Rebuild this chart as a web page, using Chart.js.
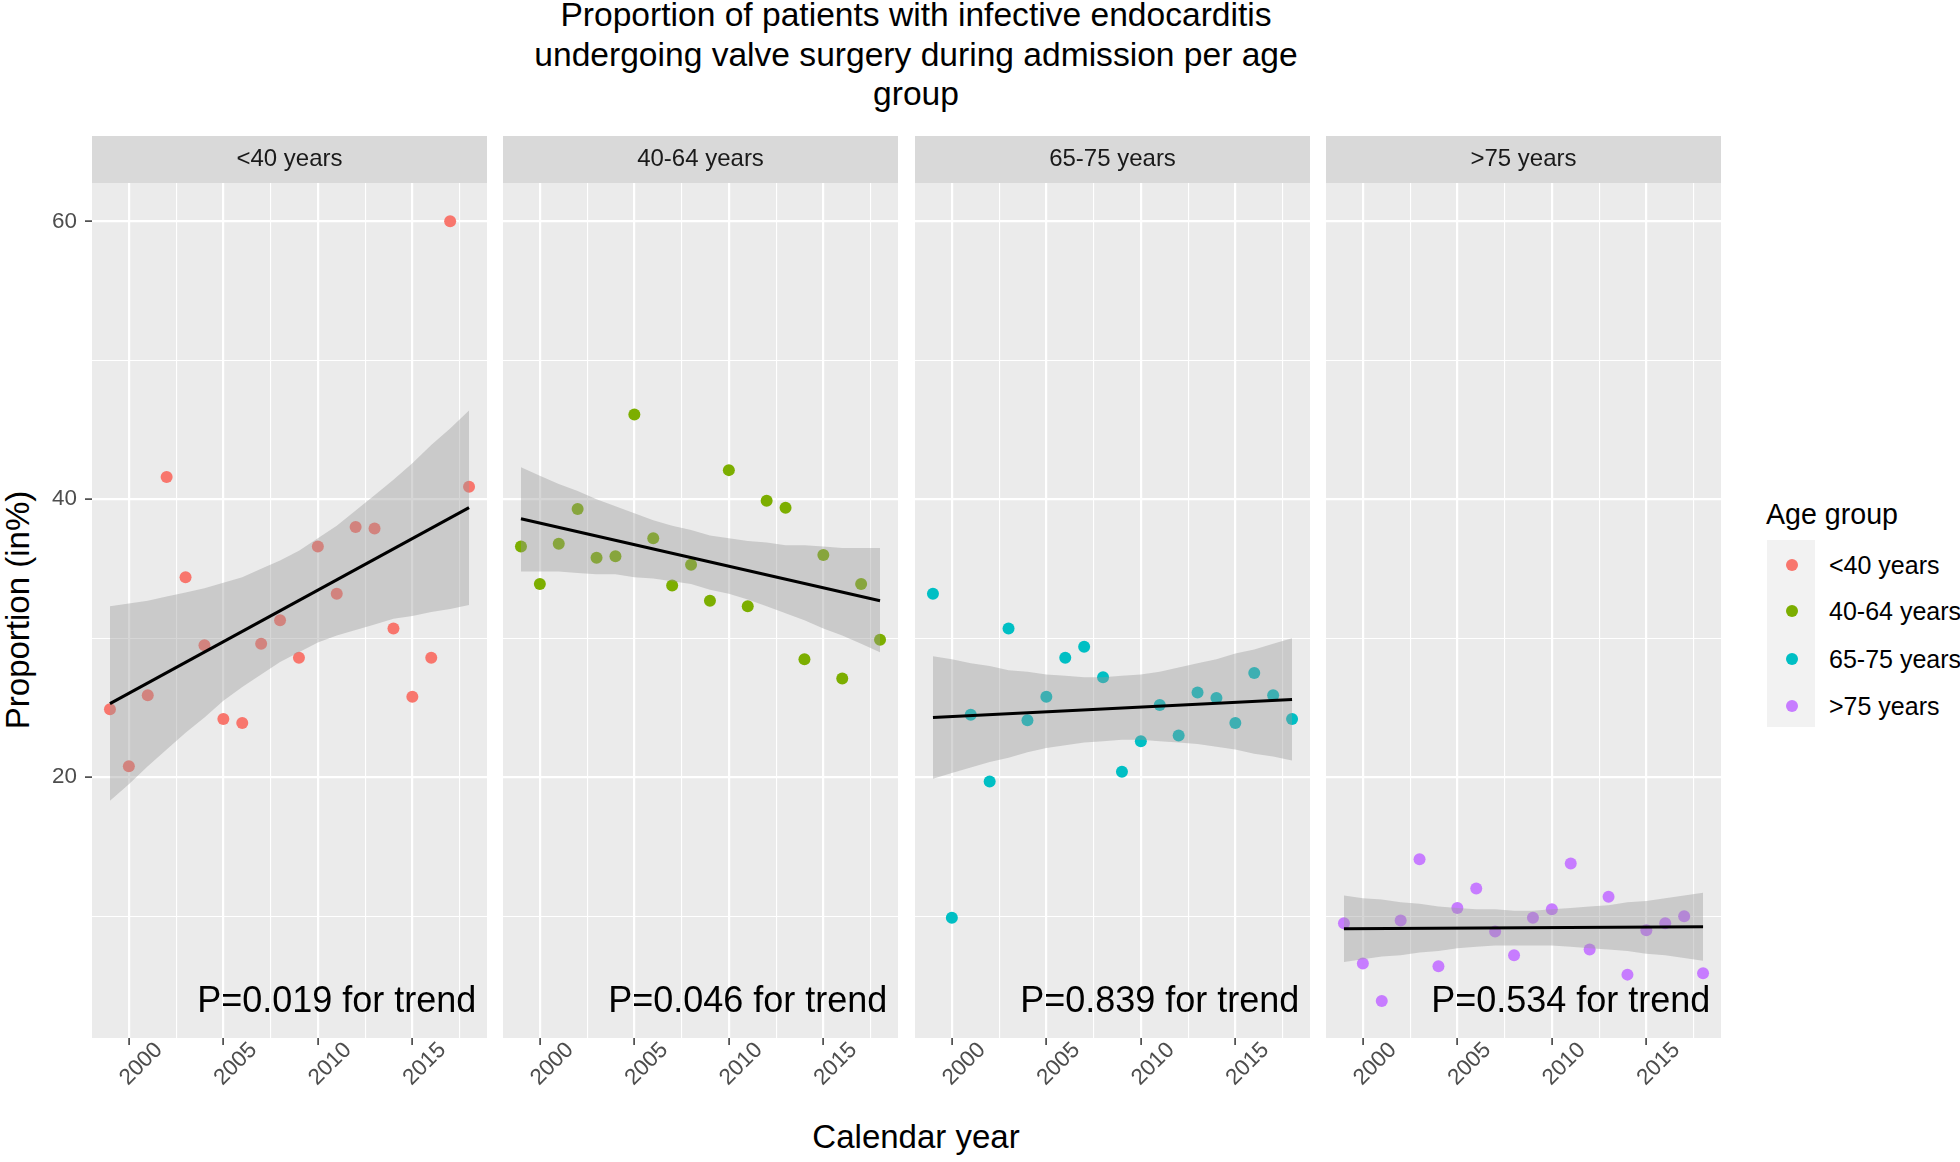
<!DOCTYPE html>
<html>
<head>
<meta charset="utf-8">
<script src="https://cdn.jsdelivr.net/npm/chart.js@4.4.1/dist/chart.umd.min.js"></script>
<style>
html,body{margin:0;padding:0;background:#ffffff;}
#root{position:relative;width:1960px;height:1162px;overflow:hidden;font-family:"Liberation Sans",Arial,sans-serif;color:#000;}
#root canvas{position:absolute;}
#title{position:absolute;left:0;top:-5px;width:1832px;text-align:center;font-size:33.6px;line-height:39.5px;}
#ytitle{position:absolute;left:18px;top:610px;transform:translate(-50%,-50%) rotate(-90deg);white-space:nowrap;font-size:33px;}
#xtitle{position:absolute;left:916px;top:1137px;transform:translate(-50%,-50%);white-space:nowrap;font-size:33px;}
#legtitle{position:absolute;left:1766px;top:514px;transform:translateY(-50%);white-space:nowrap;font-size:28.6px;}
#legkeys{position:absolute;left:1767px;top:540px;width:48px;height:187px;background:#F2F2F2;}
.legdot{position:absolute;width:12px;height:12px;border-radius:50%;transform:translate(-50%,-50%);}
.leglab{position:absolute;white-space:nowrap;font-size:25px;transform:translateY(-50%);}
</style>
</head>
<body>
<div id="root">
  <div id="title">Proportion of patients with infective endocarditis<br>undergoing valve surgery during admission per age<br>group</div>
  <div id="ytitle">Proportion (in%)</div>
  <div id="xtitle">Calendar year</div>
  <div id="legtitle">Age group</div>
  <div id="legkeys"></div>
</div>
<script>
// ---------------- data ----------------
const years = [1999, 2000, 2001, 2002, 2003, 2004, 2005, 2006, 2007, 2008, 2009, 2010, 2011, 2012, 2013, 2014, 2015, 2016, 2017, 2018];
const groups = ['<40 years', '40-64 years', '65-75 years', '>75 years'];

const valuesUnder40 = [24.9, 20.8, 25.9, 41.6, 34.4, 29.5, 24.2, 23.9, 29.6, 31.3, 28.6, 36.6, 33.2, 38.0, 37.9, 30.7, 25.8, 28.6, 60.0, 40.9];
const values40to64  = [36.6, 33.9, 36.8, 39.3, 35.8, 35.9, 46.1, 37.2, 33.8, 35.3, 32.7, 42.1, 32.3, 39.9, 39.4, 28.5, 36.0, 27.1, 33.9, 29.9];
const values65to75  = [33.2, 9.9, 24.5, 19.7, 30.7, 24.1, 25.8, 28.6, 29.4, 27.2, 20.4, 22.6, 25.2, 23.0, 26.1, 25.7, 23.9, 27.5, 25.9, 24.2];
const valuesOver75  = [9.5, 6.6, 3.9, 9.7, 14.1, 6.4, 10.6, 12.0, 8.9, 7.2, 9.9, 10.5, 13.8, 7.6, 11.4, 5.8, 9.0, 9.5, 10.0, 5.9];

// fitted trend line (value at first and last year)
const trendYears = [1999, 2018];
const trendUnder40 = [25.3, 39.4];
const trend40to64  = [38.6, 32.7];
const trend65to75  = [24.3, 25.6];
const trendOver75  = [9.1, 9.25];

// confidence band read at each year
const bandUpperUnder40 = [32.3, 32.5, 32.7, 33.0, 33.3, 33.6, 34.0, 34.4, 35.0, 35.6, 36.3, 37.2, 38.1, 39.2, 40.3, 41.4, 42.6, 43.9, 45.1, 46.4];
const bandLowerUnder40 = [18.3, 19.5, 20.8, 22.0, 23.2, 24.3, 25.5, 26.5, 27.4, 28.3, 29.0, 29.7, 30.2, 30.6, 31.0, 31.4, 31.6, 31.9, 32.1, 32.4];
const bandUpper40to64  = [42.3, 41.7, 41.1, 40.6, 40.0, 39.5, 39.0, 38.5, 38.1, 37.8, 37.4, 37.2, 37.0, 36.9, 36.7, 36.7, 36.6, 36.5, 36.5, 36.5];
const bandLower40to64  = [34.8, 34.8, 34.8, 34.7, 34.6, 34.6, 34.4, 34.3, 34.1, 33.9, 33.5, 33.2, 32.8, 32.3, 31.8, 31.3, 30.7, 30.2, 29.6, 29.0];
const bandUpper65to75  = [28.7, 28.5, 28.2, 28.0, 27.7, 27.6, 27.4, 27.3, 27.2, 27.2, 27.3, 27.4, 27.6, 27.9, 28.2, 28.5, 28.9, 29.2, 29.6, 30.0];
const bandLower65to75  = [19.9, 20.3, 20.7, 21.1, 21.4, 21.8, 22.1, 22.3, 22.5, 22.6, 22.7, 22.7, 22.6, 22.5, 22.4, 22.2, 22.0, 21.7, 21.5, 21.2];
const bandUpperOver75  = [11.5, 11.3, 11.2, 11.0, 10.9, 10.7, 10.6, 10.5, 10.5, 10.4, 10.4, 10.5, 10.6, 10.7, 10.8, 11.0, 11.1, 11.3, 11.5, 11.7];
const bandLowerOver75  = [6.7, 6.9, 7.1, 7.2, 7.4, 7.5, 7.7, 7.8, 7.9, 7.9, 7.9, 7.9, 7.8, 7.7, 7.6, 7.5, 7.3, 7.2, 7.0, 6.8];

const pTexts = ['P=0.019 for trend', 'P=0.046 for trend', 'P=0.839 for trend', 'P=0.534 for trend'];
const pLabelX = 2011, pLabelY = 3.8;

const xMajorTicks = [2000, 2005, 2010, 2015];
const xMinorTicks = [2002.5, 2007.5, 2012.5, 2017.5];
const xTickLabels = ['2000', '2005', '2010', '2015'];
const yMajorTicks = [20, 40, 60];
const yMinorTicks = [10, 30, 50];
const yTickLabels = ['20', '40', '60'];
const xMin = 1998.05, xMax = 2018.95, yMin = 1.24, yMax = 62.76;

// ---------------- styles / layout ----------------
const colors = ['#F8766D', '#7CAE00', '#00BFC4', '#C77CFF'];
const panelLayout = [
  {left: 0, width: 487, yAxisWidth: 92},
  {left: 503, width: 395, yAxisWidth: 0},
  {left: 915, width: 395, yAxisWidth: 0},
  {left: 1326, width: 395, yAxisWidth: 0}
];
const panelTop = 136, panelCanvasHeight = 992, xAxisHeight = 90;
const legendDotY = [565, 611, 659, 706];

const seriesValues = [valuesUnder40, values40to64, values65to75, valuesOver75];
const seriesTrend = [trendUnder40, trend40to64, trend65to75, trendOver75];
const seriesUpper = [bandUpperUnder40, bandUpper40to64, bandUpper65to75, bandUpperOver75];
const seriesLower = [bandLowerUnder40, bandLower40to64, bandLower65to75, bandLowerOver75];

const FONT = '"Liberation Sans", Arial, sans-serif';
Chart.defaults.font.family = FONT;

const xAllTicks = xMajorTicks.concat(xMinorTicks).sort((a, b) => a - b);
const yAllTicks = yMajorTicks.concat(yMinorTicks).sort((a, b) => a - b);

const panelBg = {
  id: 'panelBg',
  beforeDraw(chart) {
    const {ctx, chartArea: a} = chart;
    ctx.save();
    ctx.fillStyle = '#EBEBEB';
    ctx.fillRect(a.left, a.top, a.right - a.left, a.bottom - a.top);
    ctx.fillStyle = '#D9D9D9';
    ctx.fillRect(a.left, 0, a.right - a.left, a.top);
    ctx.restore();
  }
};

const pLabel = {
  id: 'pLabel',
  afterDatasetsDraw(chart, args, opts) {
    const {ctx} = chart;
    const x = chart.scales.x.getPixelForValue(pLabelX);
    const y = chart.scales.y.getPixelForValue(pLabelY);
    ctx.save();
    ctx.font = '36px ' + FONT;
    ctx.fillStyle = '#000000';
    ctx.textAlign = 'center';
    ctx.textBaseline = 'middle';
    ctx.fillText(opts.text, x, y);
    ctx.restore();
  }
};

const root = document.getElementById('root');

panelLayout.forEach((L, i) => {
  const canvas = document.createElement('canvas');
  canvas.width = L.width;
  canvas.height = panelCanvasHeight;
  canvas.style.left = L.left + 'px';
  canvas.style.top = panelTop + 'px';
  canvas.style.width = L.width + 'px';
  canvas.style.height = panelCanvasHeight + 'px';
  root.appendChild(canvas);

  const pts = years.map((x, k) => ({x: x, y: seriesValues[i][k]}));
  const up = years.map((x, k) => ({x: x, y: seriesUpper[i][k]}));
  const lo = years.map((x, k) => ({x: x, y: seriesLower[i][k]}));
  const tr = trendYears.map((x, k) => ({x: x, y: seriesTrend[i][k]}));
  const showY = L.yAxisWidth > 0;

  new Chart(canvas, {
    type: 'scatter',
    data: {
      datasets: [
        {type: 'scatter', label: groups[i], data: pts, backgroundColor: colors[i], borderColor: colors[i], borderWidth: 0, pointRadius: 6, pointHoverRadius: 6, order: 3},
        {type: 'line', label: 'lower', data: lo, showLine: true, borderColor: 'rgba(0,0,0,0)', borderWidth: 1, pointRadius: 0, fill: false, tension: 0, order: 2},
        {type: 'line', label: 'upper', data: up, showLine: true, borderColor: 'rgba(0,0,0,0)', borderWidth: 1, pointRadius: 0, fill: '-1', backgroundColor: 'rgba(153,153,153,0.4)', tension: 0, order: 2},
        {type: 'line', label: 'trend', data: tr, showLine: true, borderColor: '#000000', borderWidth: 3, pointRadius: 0, fill: false, tension: 0, order: 1}
      ]
    },
    options: {
      responsive: false,
      animation: false,
      events: [],
      layout: {padding: 0, autoPadding: false},
      plugins: {
        legend: {display: false},
        tooltip: {enabled: false},
        title: {display: true, text: groups[i], fullSize: false, color: '#1A1A1A',
                font: {size: 24, weight: 'normal', family: FONT, lineHeight: 1.2},
                padding: {top: 9.1, bottom: 9.1}},
        pLabel: {text: pTexts[i]}
      },
      scales: {
        x: {
          type: 'linear', min: xMin, max: xMax,
          afterBuildTicks: s => { s.ticks = xAllTicks.map(v => ({value: v})); },
          afterFit: s => { s.height = xAxisHeight; s.paddingLeft = 0; s.paddingRight = 0; },
          ticks: {autoSkip: false, minRotation: 45, maxRotation: 45, labelOffset: 30, padding: -8,
                  color: '#4D4D4D', font: {size: 22.4},
                  callback: v => { const k = xMajorTicks.indexOf(v); return k >= 0 ? xTickLabels[k] : ''; }},
          grid: {color: '#FFFFFF',
                 lineWidth: c => (c.tick && xMajorTicks.includes(c.tick.value)) ? 2.2 : 1.1,
                 drawTicks: true, tickLength: 7, tickWidth: 1.5,
                 tickColor: c => (c.tick && xMajorTicks.includes(c.tick.value)) ? '#333333' : 'rgba(0,0,0,0)'},
          border: {display: false}
        },
        y: {
          type: 'linear', min: yMin, max: yMax,
          afterBuildTicks: s => { s.ticks = yAllTicks.map(v => ({value: v})); },
          afterFit: s => { s.width = L.yAxisWidth; s.paddingTop = 0; s.paddingBottom = 0; },
          ticks: {display: showY, padding: 8, color: '#4D4D4D', font: {size: 22.4},
                  callback: v => { const k = yMajorTicks.indexOf(v); return k >= 0 ? yTickLabels[k] : ''; }},
          grid: {color: '#FFFFFF',
                 lineWidth: c => (c.tick && yMajorTicks.includes(c.tick.value)) ? 2.2 : 1.1,
                 drawTicks: showY, tickLength: 7, tickWidth: 1.5,
                 tickColor: c => (c.tick && yMajorTicks.includes(c.tick.value)) ? '#333333' : 'rgba(0,0,0,0)'},
          border: {display: false}
        }
      }
    },
    plugins: [panelBg, pLabel]
  });
});

// legend
groups.forEach((g, i) => {
  const d = document.createElement('div');
  d.className = 'legdot';
  d.style.left = '1792px';
  d.style.top = legendDotY[i] + 'px';
  d.style.background = colors[i];
  root.appendChild(d);
  const t = document.createElement('div');
  t.className = 'leglab';
  t.style.left = '1829px';
  t.style.top = legendDotY[i] + 'px';
  t.textContent = g;
  root.appendChild(t);
});
</script>
</body>
</html>
